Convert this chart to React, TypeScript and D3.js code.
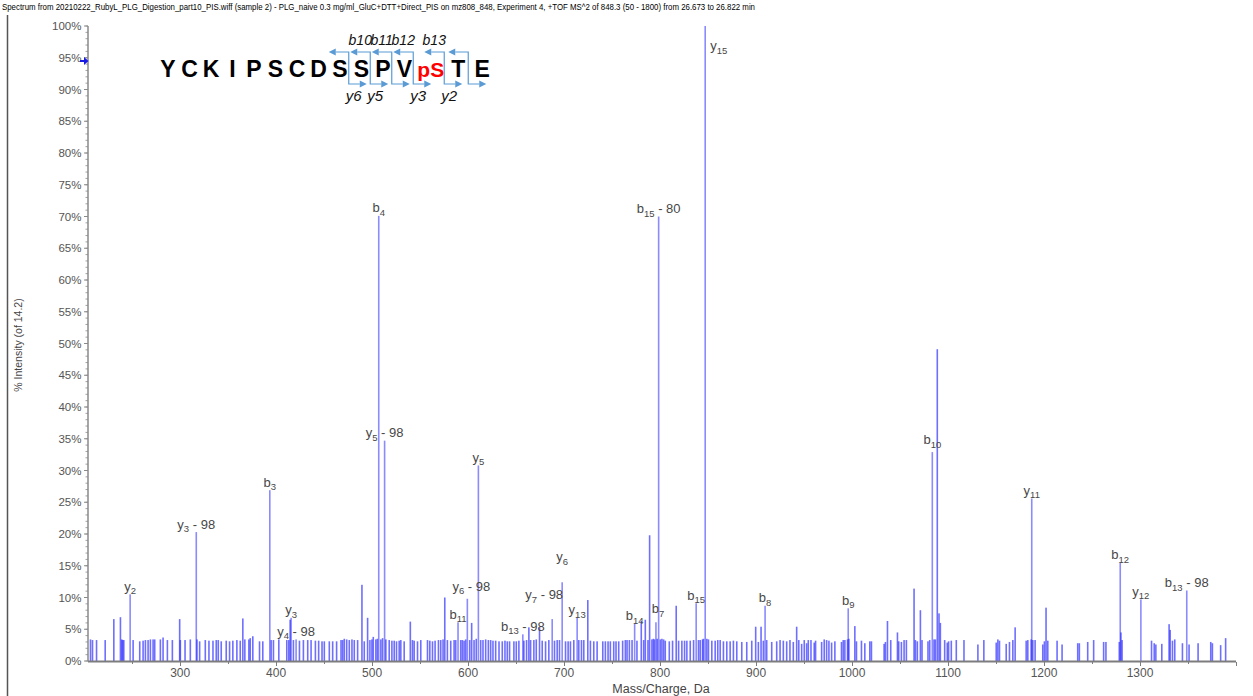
import React, { useEffect, useRef } from 'react';
import * as d3 from 'd3';

const TITLE =
  'Spectrum from 20210222_RubyL_PLG_Digestion_part10_PIS.wiff (sample 2) - PLG_naive 0.3 mg/ml_GluC+DTT+Direct_PIS on mz808_848, Experiment 4, +TOF MS^2 of 848.3 (50 - 1800) from 26.673 to 26.822 min';

// annotated fragment ions
const labelledIons = [
  'y2', 'y3-98', 'b3', 'y3', 'y4-98', 'b4', 'y5-98', 'b11', 'y6-98', 'y5',
  'b13-98', 'y7-98', 'y6', 'y13', 'b14', 'b7', 'b15-80', 'b15', 'y15', 'b8',
  'b9', 'b10', 'y11', 'b12', 'y12', 'b13-98',
];
const labelledMz = [
  247.9, 316.8, 393.4, 415.6, 420.8, 506.9, 513.0, 589.5, 599.2, 610.7,
  657.0, 687.6, 698.0, 713.6, 773.5, 795.7, 798.5, 837.6, 847.0, 909.4,
  996.0, 1083.6, 1187.2, 1279.4, 1300.9, 1348.7,
];
const labelledIntensity = [
  10.5, 20.3, 26.9, 6.8, 3.4, 70.1, 34.7, 6.1, 9.8, 30.8,
  4.2, 6.6, 12.4, 6.8, 5.9, 6.1, 70.0, 9.1, 100, 8.7,
  8.3, 32.9, 25.6, 15.5, 9.7, 11.1,
];

// everything else: [m/z, % intensity]
const otherPeaks: [number, number][] = [
  [206.6, 3.4], [208.7, 3.3], [212.9, 3.3], [221.9, 3.3], [230.9, 6.6], [237.8, 6.9], [239.2, 3.4], [240.0, 3.3],
  [241.3, 3.3], [251.0, 3.3], [257.9, 3.1], [261.4, 3.2], [263.8, 3.3], [266.6, 3.3], [269.0, 3.4], [271.8, 3.4],
  [273.5, 3.4], [279.4, 3.4], [282.2, 3.7], [286.7, 3.3], [291.9, 3.3], [299.5, 6.6], [300.2, 3.3], [305.1, 3.3],
  [310.6, 3.4], [317.5, 3.4], [320.3, 3.1], [326.2, 3.3], [330.0, 3.2], [334.2, 3.2], [337.6, 3.3], [339.7, 3.3],
  [342.8, 3.1], [348.0, 3.2], [351.5, 3.1], [354.9, 3.2], [359.1, 3.3], [362.6, 3.2], [365.3, 6.7], [367.4, 3.4],
  [371.6, 3.4], [373.0, 3.6], [375.7, 3.9], [382.7, 3.1], [386.1, 3.1], [394.8, 3.3], [397.2, 3.3], [402.8, 3.4],
  [411.1, 3.3], [413.2, 3.3], [414.6, 6.5], [418.0, 3.3], [424.3, 3.2], [428.4, 3.3], [432.9, 3.3], [436.4, 3.3],
  [440.9, 3.2], [444.3, 3.2], [447.8, 3.1], [450.2, 3.1], [455.4, 3.1], [458.9, 3.1], [463.0, 3.1], [467.6, 3.3],
  [469.3, 3.3], [471.0, 3.5], [473.5, 3.4], [476.2, 3.3], [479.0, 3.4], [481.4, 3.3], [484.9, 3.3], [489.4, 12.0],
  [491.8, 3.1], [495.3, 6.8], [497.7, 3.3], [499.8, 3.4], [501.2, 3.8], [503.9, 3.4], [505.5, 3.5], [509.1, 3.4],
  [510.9, 3.6], [514.3, 3.4], [517.8, 3.3], [520.6, 3.2], [523.0, 3.2], [525.4, 3.1], [528.2, 3.2], [529.9, 3.3],
  [533.4, 3.1], [539.8, 6.2], [542.0, 3.3], [543.8, 3.2], [547.3, 3.1], [550.7, 3.3], [557.7, 3.3], [560.1, 3.2],
  [562.9, 3.1], [565.6, 3.2], [569.1, 3.3], [571.5, 3.3], [573.9, 3.4], [575.7, 10.0], [578.4, 3.3], [581.9, 3.2],
  [585.4, 3.3], [587.1, 3.3], [592.3, 3.3], [594.0, 3.3], [595.8, 3.2], [597.5, 3.4], [601.7, 3.3], [603.7, 6.0],
  [606.2, 3.3], [608.5, 3.5], [613.1, 3.3], [615.5, 3.3], [618.3, 3.4], [621.1, 3.3], [623.5, 3.3], [625.9, 3.2],
  [628.7, 3.2], [632.2, 3.1], [635.6, 3.1], [638.4, 3.2], [640.8, 3.1], [643.2, 3.1], [647.7, 3.1], [650.2, 3.1],
  [652.9, 3.2], [658.1, 3.2], [660.9, 3.3], [663.3, 5.3], [665.1, 3.3], [668.5, 3.3], [671.0, 3.4], [674.4, 5.3],
  [677.2, 3.2], [680.7, 3.1], [684.1, 3.3], [690.0, 3.2], [692.8, 3.3], [695.2, 3.3], [701.5, 3.1], [704.2, 3.1],
  [706.6, 3.1], [710.1, 3.3], [715.3, 3.3], [718.1, 3.3], [720.5, 3.3], [724.7, 9.6], [727.4, 3.2], [730.9, 3.1],
  [734.4, 3.1], [740.3, 3.1], [743.0, 3.1], [745.8, 3.1], [748.2, 3.1], [751.7, 3.1], [754.1, 3.1], [756.9, 3.1],
  [761.0, 3.2], [763.8, 3.3], [765.6, 3.3], [768.0, 3.3], [770.8, 3.3], [775.9, 3.2], [780.4, 6.3], [782.9, 3.3],
  [784.6, 6.5], [787.4, 3.3], [789.1, 19.8], [791.5, 3.4], [793.0, 3.5], [794.2, 3.4], [797.0, 3.5], [800.2, 3.4],
  [801.9, 3.5], [803.7, 3.4], [805.4, 3.2], [809.6, 3.1], [813.0, 3.2], [816.8, 8.7], [819.3, 3.2], [822.7, 3.2],
  [825.5, 3.2], [827.9, 3.2], [831.4, 3.2], [834.9, 3.3], [840.0, 3.3], [841.8, 3.3], [844.2, 3.4], [845.2, 3.5],
  [848.7, 3.5], [850.4, 3.4], [853.9, 3.2], [857.4, 3.2], [860.1, 3.3], [862.6, 3.3], [866.0, 3.1], [869.5, 3.1],
  [873.0, 3.1], [876.4, 3.2], [879.9, 3.1], [885.1, 3.0], [890.3, 3.0], [895.5, 3.2], [899.6, 5.4], [902.4, 3.0],
  [905.2, 5.4], [907.6, 3.2], [911.1, 3.3], [916.3, 3.0], [921.5, 3.1], [925.0, 3.3], [928.4, 3.2], [931.9, 3.1],
  [935.3, 3.3], [938.8, 3.0], [942.3, 5.4], [944.5, 3.3], [947.5, 2.7], [950.2, 3.3], [952.7, 2.8], [954.4, 3.3],
  [957.2, 3.3], [960.6, 2.9], [962.0, 3.2], [968.3, 3.0], [971.0, 3.4], [973.5, 3.3], [975.9, 3.2], [978.7, 2.9],
  [982.1, 3.1], [989.0, 3.0], [990.8, 3.3], [992.5, 3.3], [995.3, 3.4], [996.7, 3.5], [1002.9, 5.5], [1004.6, 3.1],
  [1009.8, 3.2], [1013.3, 2.8], [1018.5, 3.1], [1020.2, 3.1], [1033.4, 2.7], [1034.8, 3.0], [1036.9, 6.3], [1040.3, 3.3],
  [1047.3, 4.5], [1048.6, 3.1], [1051.4, 3.0], [1054.2, 3.3], [1056.6, 3.3], [1064.6, 11.4], [1066.0, 3.3], [1068.0, 3.1],
  [1071.2, 8.0], [1072.9, 3.3], [1079.1, 3.1], [1080.9, 3.3], [1085.4, 3.4], [1086.8, 3.4], [1088.8, 49.1], [1090.6, 7.5],
  [1092.0, 6.0], [1096.5, 3.3], [1099.2, 2.9], [1100.6, 3.1], [1103.4, 3.2], [1108.6, 3.3], [1116.6, 3.3], [1131.1, 2.6],
  [1137.3, 3.3], [1150.2, 2.9], [1151.9, 3.4], [1153.6, 3.2], [1160.6, 2.7], [1164.0, 3.0], [1167.5, 3.3], [1169.9, 5.3],
  [1181.4, 3.2], [1183.1, 3.3], [1186.6, 3.4], [1188.3, 3.3], [1190.7, 3.3], [1198.7, 2.6], [1200.4, 3.1], [1202.1, 8.4],
  [1203.9, 3.2], [1213.6, 3.2], [1218.8, 2.6], [1235.1, 2.8], [1236.8, 2.8], [1245.5, 3.0], [1251.7, 3.3], [1262.1, 3.0],
  [1264.5, 3.0], [1278.4, 3.0], [1280.1, 4.5], [1281.3, 3.3], [1312.0, 3.2], [1314.8, 2.8], [1316.5, 2.6], [1322.7, 2.7],
  [1330.3, 5.8], [1331.4, 4.9], [1333.8, 3.2], [1336.2, 3.4], [1344.2, 2.8], [1351.1, 2.6], [1360.5, 2.8], [1373.7, 3.0],
  [1375.4, 2.8], [1384.0, 2.5], [1389.2, 3.6],
];

const yTicks = d3.range(0, 101, 5);
const xTicks = [300, 400, 500, 600, 700, 800, 900, 1000, 1100, 1200, 1300];

// peptide sequence map
const residues = ['Y', 'C', 'K', 'I', 'P', 'S', 'C', 'D', 'S', 'S', 'P', 'V', 'pS', 'T', 'E'];
const cleavageAfter = [9, 10, 11, 12, 13, 14];
const bLabels: [number, string][] = [[10, 'b10'], [11, 'b11'], [12, 'b12'], [13, 'b13']];
const yLabels: [number, string][] = [[9, 'y6'], [10, 'y5'], [12, 'y3'], [13, 'y2']];

const WIDTH = 1253;
const HEIGHT = 696;
const FONT = "'Liberation Sans', Arial, sans-serif";
const BAR = '#2b2bff';

// hand placement of crowded labels (px)
const labelNudge: Record<string, { dx?: number; dy?: number }> = {
  y6: { dy: -17.5 },
  b10: { dy: -4.5 },
  'y6-98': { dx: 4, dy: -4.5 },
  b7: { dx: 2, dy: -5.5 },
  'y7-98': { dx: -8, dy: -16.5 },
};

const SpectrumChart: React.FC = () => {
  const svgRef = useRef<SVGSVGElement>(null);

  useEffect(() => {
    if (!svgRef.current) return;
    const svg = d3.select(svgRef.current);
    svg.selectAll('*').remove();

    const x = d3.scaleLinear().domain([204, 1400]).range([88, 1236]);
    const y = d3.scaleLinear().domain([0, 100]).range([661, 26]);
    const barW = 1.6;

    svg.append('rect').attr('width', WIDTH).attr('height', HEIGHT).attr('fill', '#fff');

    // window frame
    svg.append('line')
      .attr('x1', 7.5).attr('x2', 7.5).attr('y1', 15).attr('y2', HEIGHT)
      .attr('stroke', '#555').attr('stroke-width', 1.5);

    // title
    svg.append('text')
      .attr('x', 2).attr('y', 10)
      .attr('textLength', 753).attr('lengthAdjust', 'spacingAndGlyphs')
      .style('font-family', "'Liberation Sans Narrow', 'Liberation Sans', Arial")
      .style('font-size', '8.6px')
      .attr('fill', '#000')
      .text(TITLE);

    // bars, translucent so that crowded peaks get darker
    const bars = svg.append('g');

    bars.selectAll('rect.minor')
      .data(otherPeaks)
      .enter()
      .append('rect')
      .attr('class', 'minor')
      .attr('x', d => x(d[0]) - barW / 2)
      .attr('width', barW)
      .attr('y', d => y(d[1]))
      .attr('height', d => y(0) - y(d[1]))
      .style('fill', BAR)
      .style('fill-opacity', 0.68);

    const labelled = labelledIons.map((ion, i) => {
      const m = ion.match(/^([by])(\d+)(?:-(\d+))?$/)!;
      return { ion, series: m[1], num: m[2], loss: m[3], mz: labelledMz[i], inten: labelledIntensity[i] };
    });

    bars.selectAll('rect.major')
      .data(labelled)
      .enter()
      .append('rect')
      .attr('class', 'major')
      .attr('x', d => x(d.mz) - barW / 2)
      .attr('width', barW)
      .attr('y', d => y(d.inten))
      .attr('height', d => y(0) - y(d.inten))
      .style('fill', BAR)
      .style('fill-opacity', 0.55);

    // peak labels
    const labels = svg.append('g')
      .style('font-family', FONT)
      .style('font-size', '13px')
      .style('fill', '#474747');

    labelled.forEach(d => {
      const top = y(d.inten);
      const nudge = labelNudge[d.ion] || {};
      const atTop = d.inten >= 95;
      const t = labels.append('text')
        .attr('x', atTop ? x(d.mz) + 5 : x(d.mz) + (nudge.dx || 0))
        .attr('y', atTop ? top + 24 : top - 3.5 + (nudge.dy || 0))
        .attr('text-anchor', atTop ? 'start' : 'middle');
      t.append('tspan').text(d.series);
      t.append('tspan').attr('dy', 3.5).style('font-size', '9.5px').text(d.num);
      if (d.loss) t.append('tspan').attr('dy', -3.5).text(` - ${d.loss}`);
    });

    // y axis
    const axisColor = '#8a8a8a';
    const yAxis = svg.append('g');
    yAxis.append('line')
      .attr('x1', 88).attr('x2', 88).attr('y1', y(0)).attr('y2', y(100))
      .attr('stroke', axisColor).attr('stroke-width', 1.5);
    yAxis.selectAll('line.minor')
      .data(d3.range(0, 101, 1))
      .enter()
      .append('line')
      .attr('class', 'minor')
      .attr('x1', 85.5).attr('x2', 88)
      .attr('y1', d => y(d)).attr('y2', d => y(d))
      .attr('stroke', axisColor).attr('stroke-width', 0.8);
    yAxis.selectAll('line.major')
      .data(yTicks)
      .enter()
      .append('line')
      .attr('class', 'major')
      .attr('x1', 84).attr('x2', 88)
      .attr('y1', d => y(d)).attr('y2', d => y(d))
      .attr('stroke', axisColor).attr('stroke-width', 1);
    yAxis.selectAll('text')
      .data(yTicks)
      .enter()
      .append('text')
      .attr('x', 81.5)
      .attr('y', d => y(d) + 4)
      .attr('text-anchor', 'end')
      .style('font-family', FONT)
      .style('font-size', '11.5px')
      .style('fill', '#555')
      .text(d => `${d}%`);

    // precursor marker
    const my = y(94.5);
    svg.append('path')
      .attr('d', `M80,${my - 1} L84,${my - 1} L84,${my - 4} L88.5,${my} L84,${my + 4} L84,${my + 1} L80,${my + 1} Z`)
      .style('fill', '#1a1ae6');

    // x axis
    const xAxis = svg.append('g');
    xAxis.append('line')
      .attr('x1', 88).attr('x2', 1236).attr('y1', 661.5).attr('y2', 661.5)
      .attr('stroke', '#7d7d7d').attr('stroke-width', 2);
    xAxis.selectAll('line.minor')
      .data(d3.range(250, 1401, 50))
      .enter()
      .append('line')
      .attr('class', 'minor')
      .attr('x1', d => Math.round(x(d)) + 0.5).attr('x2', d => Math.round(x(d)) + 0.5)
      .attr('y1', 662).attr('y2', d => (d % 100 === 0 ? 666 : 664))
      .attr('stroke', '#7d7d7d').attr('stroke-width', 1);
    xAxis.selectAll('text')
      .data(xTicks)
      .enter()
      .append('text')
      .attr('x', d => x(d))
      .attr('y', 677)
      .attr('text-anchor', 'middle')
      .style('font-family', FONT)
      .style('font-size', '12px')
      .style('fill', '#555')
      .text(d => d);

    // axis titles
    svg.append('text')
      .attr('x', 661).attr('y', 693)
      .attr('text-anchor', 'middle')
      .style('font-family', FONT)
      .style('font-size', '12.5px')
      .style('fill', '#444')
      .text('Mass/Charge, Da');

    svg.append('text')
      .attr('transform', 'translate(22,345) rotate(-90)')
      .attr('text-anchor', 'middle')
      .style('font-family', FONT)
      .style('font-size', '10.5px')
      .style('fill', '#444')
      .text('% Intensity (of 14.2)');

    // sequence with fragment brackets
    const slot = (r: string, i: number) => (r === 'pS' ? 31 : i >= 13 ? 24 : 21.5);
    const centers: number[] = [];
    residues.forEach((r, i) => {
      centers.push(i === 0 ? 168 : centers[i - 1] + (slot(residues[i - 1], i - 1) + slot(r, i)) / 2);
    });
    const site = (after: number) => centers[after - 1] + slot(residues[after - 1], after - 1) / 2 - 2;

    const seq = svg.append('g');
    seq.selectAll('text.res')
      .data(residues)
      .enter()
      .append('text')
      .attr('class', 'res')
      .attr('x', (_, i) => centers[i])
      .attr('y', 77)
      .attr('text-anchor', 'middle')
      .style('font-family', FONT)
      .style('font-size', d => (d === 'pS' ? '21px' : '23px'))
      .style('font-weight', 'bold')
      .style('fill', d => (d === 'pS' ? '#ff0000' : '#000'))
      .text(d => d);

    const blue = '#5b9bd5';
    const brackets = seq.append('g').attr('stroke', blue).attr('stroke-width', 1.2).attr('fill', 'none');
    cleavageAfter.forEach(a => {
      const sx = site(a);
      brackets.append('path').attr('d', `M${sx - 13},52 L${sx},52 L${sx},84 L${sx + 11},84`);
      seq.append('path')
        .attr('d', `M${sx - 20},52 L${sx - 13},48.5 L${sx - 13},55.5 Z`)
        .style('fill', blue);
      seq.append('path')
        .attr('d', `M${sx + 18},84 L${sx + 11},80.5 L${sx + 11},87.5 Z`)
        .style('fill', blue);
    });

    seq.selectAll('text.b')
      .data(bLabels)
      .enter()
      .append('text')
      .attr('class', 'b')
      .attr('x', d => site(d[0]) - 10)
      .attr('y', 45)
      .attr('text-anchor', 'middle')
      .style('font-family', FONT)
      .style('font-size', '14px')
      .style('font-style', 'italic')
      .style('fill', '#111')
      .text(d => d[1]);

    seq.selectAll('text.y')
      .data(yLabels)
      .enter()
      .append('text')
      .attr('class', 'y')
      .attr('x', d => site(d[0]) + 5)
      .attr('y', 101)
      .attr('text-anchor', 'middle')
      .style('font-family', FONT)
      .style('font-size', '15px')
      .style('font-style', 'italic')
      .style('fill', '#111')
      .text(d => d[1]);
  }, []);

  return <svg ref={svgRef} width={WIDTH} height={HEIGHT} style={{ display: 'block' }} />;
};

export default function App() {
  return (
    <div style={{ position: 'absolute', left: 0, top: 0 }}>
      <SpectrumChart />
    </div>
  );
}
